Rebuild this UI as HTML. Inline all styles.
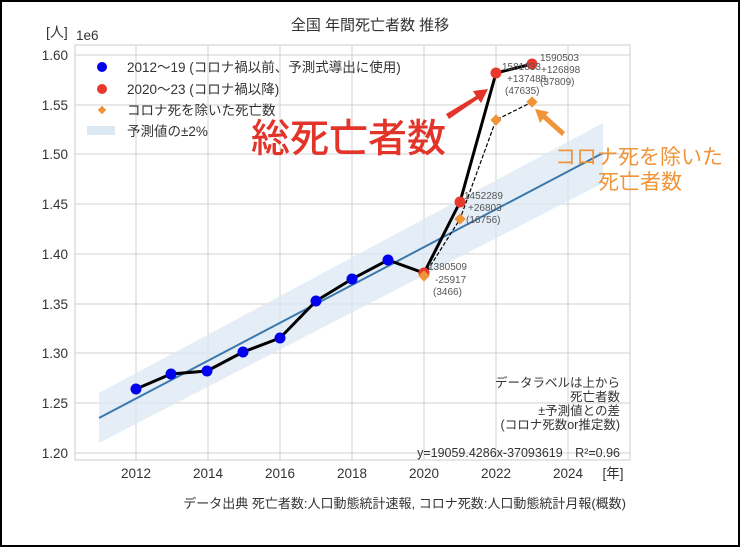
<!DOCTYPE html>
<html><head><meta charset="utf-8"><style>
html,body{margin:0;padding:0;background:#fff}
svg{display:block}
text{font-family:"Liberation Sans","Noto Sans CJK JP",sans-serif}
</style></head><body>
<svg width="740" height="547" viewBox="0 0 740 547" xmlns="http://www.w3.org/2000/svg">
<rect x="1" y="1" width="738" height="545" fill="#fff" stroke="#000" stroke-width="2"/>
<rect x="75" y="45" width="555" height="415" fill="#fff" stroke="#ccc" stroke-width="1"/>
<g stroke="#d0d0d0" stroke-width="1">
<line x1="136" y1="45" x2="136" y2="460"/><line x1="208" y1="45" x2="208" y2="460"/>
<line x1="280" y1="45" x2="280" y2="460"/><line x1="352" y1="45" x2="352" y2="460"/>
<line x1="424" y1="45" x2="424" y2="460"/><line x1="496" y1="45" x2="496" y2="460"/>
<line x1="568" y1="45" x2="568" y2="460"/>
<line x1="75" y1="55" x2="630" y2="55"/><line x1="75" y1="105" x2="630" y2="105"/>
<line x1="75" y1="154" x2="630" y2="154"/><line x1="75" y1="204" x2="630" y2="204"/>
<line x1="75" y1="254" x2="630" y2="254"/><line x1="75" y1="304" x2="630" y2="304"/>
<line x1="75" y1="353" x2="630" y2="353"/><line x1="75" y1="403" x2="630" y2="403"/>
<line x1="75" y1="453" x2="630" y2="453"/>
</g>
<polygon points="99,393 603,123 603,183 99,443" fill="#dce8f3" opacity="0.75"/>
<line x1="99" y1="418" x2="603" y2="153" stroke="#3b78ad" stroke-width="2"/>
<polyline points="136,389 171,374 207,371 243,352 280,338 316,301 352,279 388,260 424,273 460,202 496,73 532,64" fill="none" stroke="#000" stroke-width="3"/>
<polyline points="424,276 460,219 496,120 532,102" fill="none" stroke="#000" stroke-width="1.2" stroke-dasharray="4,2"/>
<g fill="#0000ee">
<circle cx="136" cy="389" r="5.5"/><circle cx="171" cy="374" r="5.5"/><circle cx="207" cy="371" r="5.5"/>
<circle cx="243" cy="352" r="5.5"/><circle cx="280" cy="338" r="5.5"/><circle cx="316" cy="301" r="5.5"/>
<circle cx="352" cy="279" r="5.5"/><circle cx="388" cy="260" r="5.5"/></g>
<g fill="#e8392c"><circle cx="424" cy="273" r="5.5"/><circle cx="460" cy="202" r="5.5"/><circle cx="496" cy="73" r="5.5"/><circle cx="532" cy="64" r="5.5"/></g>
<g fill="#f0943a">
<rect x="-4" y="-4" width="8" height="8" transform="translate(424,276) rotate(45)"/>
<rect x="-4" y="-4" width="8" height="8" transform="translate(460,219) rotate(45)"/>
<rect x="-4" y="-4" width="8" height="8" transform="translate(496,120) rotate(45)"/>
<rect x="-4" y="-4" width="8" height="8" transform="translate(532,102) rotate(45)"/>
</g>
<g font-size="10" fill="#555">
<text x="428" y="270">1380509</text><text x="435" y="283">-25917</text><text x="433" y="295">(3466)</text>
<text x="464" y="199">1452289</text><text x="468" y="211">+26803</text><text x="466" y="223">(16756)</text>
<text x="502" y="70">1581033</text><text x="507" y="82">+137488</text><text x="505" y="94">(47635)</text>
<text x="540" y="61">1590503</text><text x="541" y="73">+126898</text><text x="540" y="85">(37809)</text>
</g>
<g font-size="13.5" fill="#333" text-anchor="end">
<text x="68" y="60">1.60</text><text x="68" y="110">1.55</text><text x="68" y="159">1.50</text>
<text x="68" y="209">1.45</text><text x="68" y="259">1.40</text><text x="68" y="309">1.35</text>
<text x="68" y="358">1.30</text><text x="68" y="408">1.25</text><text x="68" y="458">1.20</text>
</g>
<g font-size="13.5" fill="#333" text-anchor="middle">
<text x="136" y="478">2012</text><text x="208" y="478">2014</text><text x="280" y="478">2016</text>
<text x="352" y="478">2018</text><text x="424" y="478">2020</text><text x="496" y="478">2022</text>
<text x="568" y="478">2024</text><text x="613" y="478">[年]</text>
</g>
<text x="46" y="37" font-size="14" fill="#333">[人]</text>
<text x="76" y="40" font-size="13.5" fill="#333">1e6</text>
<text x="370" y="30" font-size="15" fill="#333" text-anchor="middle">全国 年間死亡者数 推移</text>
<circle cx="102" cy="67" r="5" fill="#0000ee"/>
<text x="127" y="72" font-size="13.5" fill="#333">2012～19 (コロナ禍以前、予測式導出に使用)</text>
<circle cx="102" cy="89" r="5" fill="#e8392c"/>
<text x="127" y="94" font-size="13.5" fill="#333">2020～23 (コロナ禍以降)</text>
<rect x="-3" y="-3" width="6" height="6" fill="#f0943a" transform="translate(102,110) rotate(45)"/>
<text x="127" y="115" font-size="13.5" fill="#333">コロナ死を除いた死亡数</text>
<rect x="87" y="126" width="28" height="9" fill="#dce8f3"/>
<text x="127" y="136" font-size="13.5" fill="#333">予測値の±2%</text>
<text x="251" y="152" font-size="39" fill="#e3342a" font-weight="500" font-family="'Noto Sans CJK JP',sans-serif">総死亡者数</text>
<polygon points="446,114 476,96 473,91 488,89 481,103 478,99 449,119" fill="#e3342a"/>
<polygon points="562,136 543,119 540,123 535,109 549,112 546,115 565,132" fill="#f0943a"/>
<text x="555" y="164" font-size="21" fill="#f0943a">コロナ死を除いた</text>
<text x="598" y="189" font-size="21" fill="#f0943a">死亡者数</text>
<g font-size="12.5" fill="#333" text-anchor="end">
<text x="620" y="387">データラベルは上から</text>
<text x="620" y="401">死亡者数</text>
<text x="620" y="415">±予測値との差</text>
<text x="620" y="429">(コロナ死数or推定数)</text>
<text x="620" y="457">y=19059.4286x-37093619　R²=0.96</text>
<text x="626" y="508" font-size="13">データ出典 死亡者数:人口動態統計速報, コロナ死数:人口動態統計月報(概数)</text>
</g>
</svg>
</body></html>
